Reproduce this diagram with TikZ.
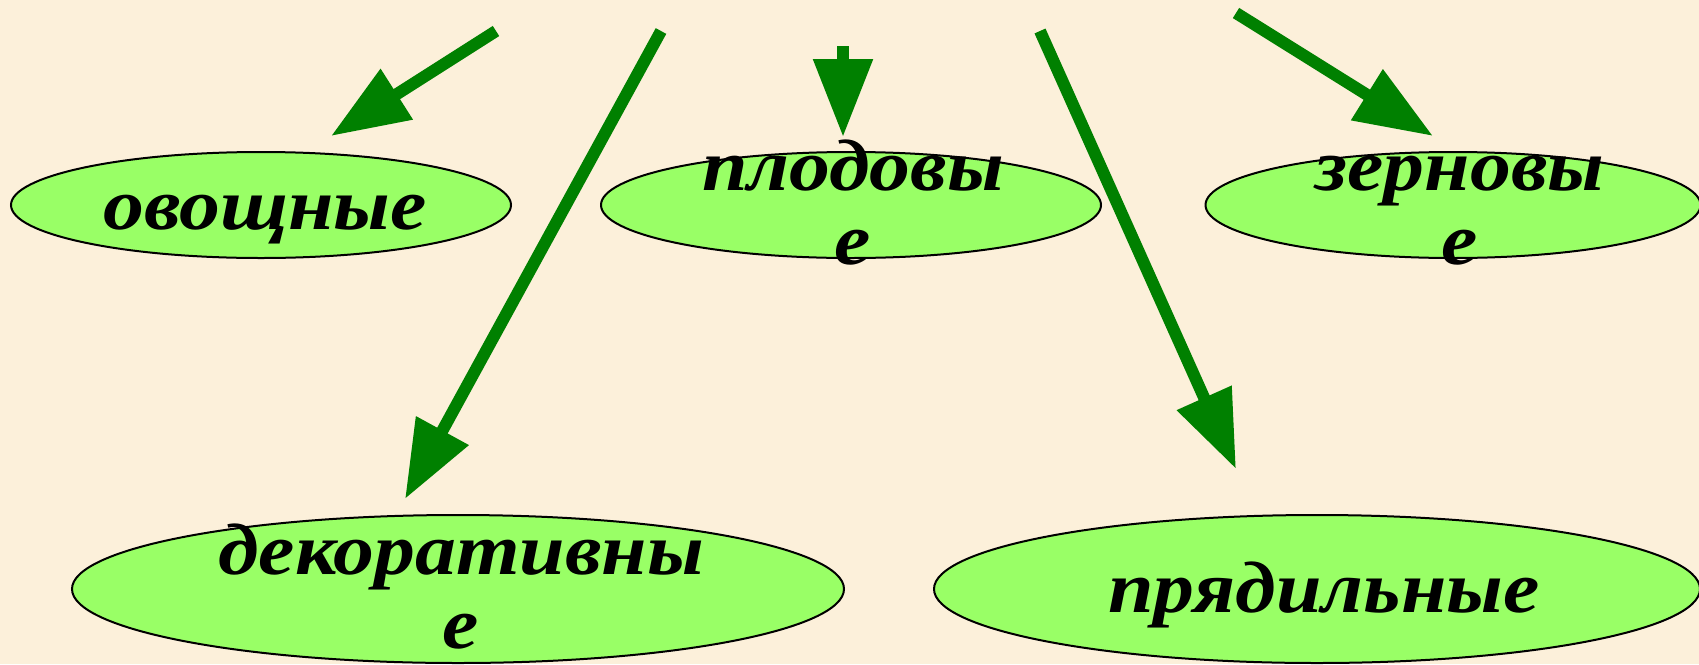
\documentclass[tikz,border=0pt]{standalone}
\usepackage{fontspec}
\setmainfont{DejaVu Serif}
\newfontfamily\lblfont[FakeStretch=1.12]{Liberation Serif}
\usetikzlibrary{shapes.geometric,arrows.meta}
\definecolor{bgcream}{RGB}{252,240,218}
\definecolor{arrowgreen}{RGB}{0,128,0}
\definecolor{ovalfill}{RGB}{153,255,102}
\newcommand\twoline[2]{\begin{tabular}[t]{@{}c@{}}#1\\#2\end{tabular}}
\begin{document}
\begin{tikzpicture}[x=1pt,y=-1pt,
  oval/.style={ellipse, draw=black, line width=2pt, fill=ovalfill, inner sep=0pt},
  lbl/.style={font=\lblfont\fontsize{73}{74}\selectfont\bfseries\itshape, inner sep=0pt, anchor=base},
  arr/.style={draw=arrowgreen, line width=12pt, -{Triangle[length=78pt,width=57pt]}}]
\fill[bgcream] (0,0) rectangle (1699,664);
\useasboundingbox (0,0) rectangle (1699,664);
% ovals
\node[oval, minimum width=500pt, minimum height=106pt] (e1) at (261,205) {};
\node[oval, minimum width=500pt, minimum height=106pt] (e2) at (851,205) {};
\node[oval, minimum width=495pt, minimum height=106pt] (e3) at (1453,205) {};
\node[oval, minimum width=772pt, minimum height=148pt] (e4) at (458,589) {};
\node[oval, minimum width=766pt, minimum height=148pt] (e5) at (1317,589) {};
% labels
\node[lbl] (l1) at (265,229) {овощные};
\node[lbl] (l2) at (853,190) {\twoline{плодовы}{е}};
\node[lbl] (l3) at (1460,190) {\twoline{зерновы}{е}};
\node[lbl] (l4) at (461,574) {\twoline{декоративны}{е}};
\node[lbl] (l5) at (1324,612) {прядильные};
% arrows
\coordinate (s1) at (496,31);  \coordinate (t1) at (331,136);
\coordinate (s2) at (661,31);  \coordinate (t2) at (405,499);
\coordinate (s3) at (843,46);  \coordinate (t3) at (843,137);
\coordinate (s4) at (1040,31); \coordinate (t4) at (1236,469);
\coordinate (s5) at (1236,13); \coordinate (t5) at (1433,136);
\draw[arr] (s1) -- (t1);
\draw[arr] (s2) -- (t2);
\draw[arr] (s3) -- (t3);
\draw[arr] (s4) -- (t4);
\draw[arr] (s5) -- (t5);
\end{tikzpicture}
\end{document}
